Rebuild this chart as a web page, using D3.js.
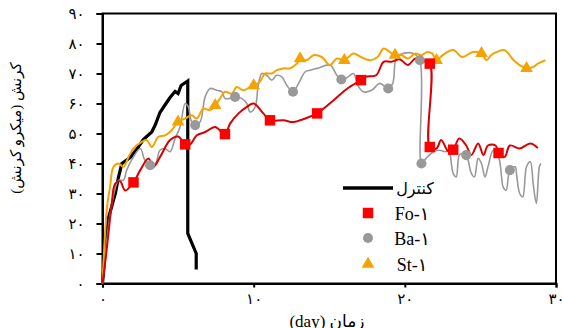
<!DOCTYPE html>
<html>
<head>
<meta charset="utf-8">
<script src="https://cdn.jsdelivr.net/npm/d3@7"></script>
<style>
  body { margin: 0; background: #fff; }
  text { font-family: "Liberation Serif", "DejaVu Sans", serif; }
</style>
</head>
<body>
<div id="chart"></div>
<script>
// values: [day, micro-strain]
const control = [[0,0],[0.2,12],[0.4,22],[0.6,25.5],[0.85,30],[1.06,35.5],[1.28,40],[1.83,42],[2.3,45],[2.7,48],[3.26,50.5],[3.5,53],[3.8,57],[4.2,60],[4.47,62],[4.8,64],[5.0,63.3],[5.2,66],[5.64,67.5],[5.64,16.7],[6.2,10],[6.2,4.7]];

const fo1 = [[0,0],[0.2,8],[0.4,17],[0.6,26],[0.84,33.3],[1.17,34],[1.5,31],[2.05,33.7],[2.5,37.8],[3.04,41.7],[3.37,38.9],[3.81,42.2],[4.47,47.8],[5.0,49],[5.47,46.4],[5.8,46.4],[6.24,49.4],[6.8,50.5],[7.45,52.2],[8.1,49.8],[8.44,53.3],[9.0,56.7],[9.55,58.9],[10.0,60],[10.64,56.7],[11.08,54.4],[11.96,54.4],[12.6,53.8],[13.07,54.4],[13.7,55.6],[14.2,56.7],[15.27,61],[16.2,65],[17.1,67.8],[17.4,68.9],[18.1,69.4],[18.6,73.9],[19.1,73.9],[19.68,74.7],[20.2,72.8],[20.7,75],[21.1,74.2],[21.65,73.3],[21.65,45.5],[22.1,45],[22.4,47.8],[22.9,43.9],[23.2,44.6],[23.6,48.3],[24.06,46],[24.4,42.8],[24.85,46.7],[25.2,42.8],[25.5,46],[26.0,46],[26.2,43.5],[26.6,42.2],[26.95,46],[27.6,45],[28.3,46.7],[28.8,45.2]];

const ba1 = [[0,0],[0.3,15],[0.6,26],[1.06,34.4],[1.39,34.4],[1.6,37.8],[2.05,42.2],[2.5,45],[2.8,41.1],[3.15,39.4],[3.5,40],[3.8,44.4],[4.14,45],[4.47,43.9],[4.8,48.3],[5.13,52.2],[5.47,60],[5.68,58.9],[5.86,54.4],[6.13,52.8],[6.46,53.9],[6.79,62.2],[7.12,65],[7.56,64.4],[7.9,63.9],[8.1,61.7],[8.44,61.7],[8.77,62.2],[9.2,61.7],[9.55,60],[9.76,57.2],[10.1,58.9],[10.3,66],[10.54,70],[10.87,69.4],[11.2,67.8],[11.53,69.4],[11.86,68.9],[12.2,66],[12.6,63.9],[13.0,67],[13.4,70.5],[13.73,71.1],[14.2,71.7],[15.05,72.8],[15.5,69.4],[15.8,68],[16.2,68.7],[16.6,70],[16.9,66],[17.25,63.9],[17.8,64.4],[18.35,66.7],[18.9,65],[19.2,66.7],[19.45,75.5],[19.9,76.7],[20.55,76.7],[20.99,74.4],[21.1,40],[21.4,41.7],[21.9,43.9],[22.3,44.4],[22.7,43.9],[22.9,44.4],[23.2,36.7],[23.4,35.5],[23.6,42.8],[23.8,43.3],[24.06,42.8],[24.4,36.7],[24.6,35.5],[24.85,41.7],[25.07,40],[25.3,35.5],[25.5,38.9],[25.85,44.4],[26.2,42.2],[26.4,35.5],[26.5,32.2],[26.7,31.1],[26.95,37.8],[27.3,38.9],[27.4,36],[27.6,30],[27.8,28.9],[28.05,38.9],[28.3,40.6],[28.5,32.8],[28.7,26.7],[28.9,38.9],[29.0,40]];

const st1 = [[0,0],[0.15,15],[0.3,25.5],[0.5,32.2],[0.73,38.9],[1.06,40],[1.39,38.9],[1.72,42.2],[2.05,45],[2.6,47.2],[2.93,47.8],[3.26,45.5],[3.7,48.9],[4.14,49.4],[4.58,51.1],[5.0,53.9],[5.47,55],[5.9,56.1],[6.24,55],[6.67,58.3],[7.1,57.8],[7.45,59.4],[7.78,61.7],[8.1,63.9],[8.55,63.3],[8.88,65.5],[9.3,64.4],[9.76,65.5],[10.0,66],[10.4,67.2],[10.75,70],[11.2,70],[11.53,71.1],[11.96,71.7],[12.4,71.7],[12.85,73.3],[13.07,75],[13.5,74.4],[13.95,76.1],[14.5,75.5],[15.05,72.8],[15.5,75],[16.0,74.4],[16.6,76.7],[17.1,75.5],[17.7,74.4],[18.2,75.5],[18.6,78.3],[19.0,77.2],[19.35,76.1],[19.8,76.1],[20.2,75],[20.7,76.7],[21.1,76.1],[21.5,77.2],[21.8,76.7],[22.1,74.4],[22.5,76.1],[23.2,77.8],[23.8,75.5],[24.5,77.2],[25.07,76.7],[25.4,74.4],[25.7,76.1],[26.1,77.2],[26.6,77.8],[27.2,74.4],[27.6,72.8],[28.05,71.7],[28.5,72.2],[28.8,73.3],[29.3,74.4]];

const foMarks = [[2.05,33.7],[5.47,46.4],[8.1,49.8],[11.08,54.4],[14.2,56.7],[17.1,67.8],[21.65,73.3],[21.65,45.5],[23.2,44.6],[26.2,43.5]];
const baMarks = [[3.15,39.4],[6.13,52.8],[8.77,62.2],[12.6,63.9],[15.8,68],[18.9,65],[21.0,74.4],[21.1,40],[24.06,42.8],[26.95,37.8]];
const stMarks = [[5.0,53.9],[7.45,59.4],[10.0,66],[13.07,75],[16.0,74.4],[19.35,76.1],[22.1,74.4],[25.07,76.7],[28.05,71.7]];

const xTicks = [0, 10, 20, 30];
const yTicks = [0, 10, 20, 30, 40, 50, 60, 70, 80, 90];
const legendNames = ["کنترل", "Fo-۱", "Ba-۱", "St-۱"];

const W = 562, H = 328;
const fa = v => String(v).replace(/\d/g, c => "۰۱۲۳۴۵۶۷۸۹"[c]);

const svg = d3.select("#chart").append("svg")
  .attr("width", W).attr("height", H);

const x = d3.scaleLinear().domain([0, 30]).range([102.5, 556]);
const y = d3.scaleLinear().domain([0, 90]).range([283.5, 13.5]);

// frame
svg.append("rect")
  .attr("x", x(0)).attr("y", y(90))
  .attr("width", x(30) - x(0)).attr("height", y(0) - y(90))
  .attr("fill", "none").attr("stroke", "#000").attr("stroke-width", 2);

const yAxis = svg.append("g")
  .attr("transform", `translate(${x(0)},0)`)
  .call(d3.axisLeft(y).tickValues(yTicks).tickSize(6).tickPadding(12).tickFormat(fa));
const xAxis = svg.append("g")
  .attr("transform", `translate(0,${y(0)})`)
  .call(d3.axisBottom(x).tickValues(xTicks).tickSize(4).tickPadding(6).tickFormat(fa));

[yAxis, xAxis].forEach(a => {
  a.select(".domain").attr("stroke-width", 2);
  a.selectAll(".tick line").attr("stroke-width", 2);
  a.selectAll("text").attr("font-size", 15).attr("font-family", "DejaVu Sans");
});

const line = d3.line().x(d => x(d[0])).y(d => y(d[1]));
const smooth = d3.line().x(d => x(d[0])).y(d => y(d[1])).curve(d3.curveCatmullRom.alpha(0.5));

svg.append("path").datum(control).attr("d", line)
  .attr("fill", "none").attr("stroke", "#000").attr("stroke-width", 3.2);
svg.append("path").datum(ba1).attr("d", smooth)
  .attr("fill", "none").attr("stroke", "#999").attr("stroke-width", 1.6);
svg.append("path").datum(st1).attr("d", smooth)
  .attr("fill", "none").attr("stroke", "#f5a300").attr("stroke-width", 2);
svg.append("path").datum(fo1).attr("d", smooth)
  .attr("fill", "none").attr("stroke", "#d80000").attr("stroke-width", 2);

const sq = d3.symbol().type(d3.symbolSquare).size(110);
const ci = d3.symbol().type(d3.symbolCircle).size(80);
const tr = d3.symbol().type(d3.symbolTriangle).size(70);

svg.selectAll(".ba").data(baMarks).join("path").attr("class", "ba")
  .attr("d", ci).attr("fill", "#999")
  .attr("transform", d => `translate(${x(d[0])},${y(d[1])})`);
svg.selectAll(".st").data(stMarks).join("path").attr("class", "st")
  .attr("d", tr).attr("fill", "#f5a300")
  .attr("transform", d => `translate(${x(d[0])},${y(d[1])})`);
svg.selectAll(".fo").data(foMarks).join("path").attr("class", "fo")
  .attr("d", sq).attr("fill", "#ff0000")
  .attr("transform", d => `translate(${x(d[0])},${y(d[1])})`);

// legend
const lg = svg.append("g");
lg.append("line").attr("x1", 343).attr("x2", 393).attr("y1", 188).attr("y2", 188)
  .attr("stroke", "#000").attr("stroke-width", 3.5);
lg.append("path").attr("d", sq).attr("fill", "#ff0000").attr("transform", "translate(368,213)");
lg.append("path").attr("d", ci).attr("fill", "#999").attr("transform", "translate(368,238)");
lg.append("path").attr("d", tr).attr("fill", "#f5a300").attr("transform", "translate(368,264)");
lg.selectAll("text").data(legendNames).join("text")
  .attr("x", (d, i) => i === 0 ? 415 : 412)
  .attr("y", (d, i) => 194 + i * 25.5)
  .attr("text-anchor", "middle")
  .attr("font-size", (d, i) => i === 0 ? 16 : 18)
  .attr("font-family", (d, i) => i === 0 ? "DejaVu Sans" : "Liberation Serif, DejaVu Sans")
  .text(d => d);

// axis titles
svg.append("text")
  .attr("x", 327).attr("y", 327)
  .attr("text-anchor", "middle").attr("direction", "rtl")
  .attr("font-size", 17)
  .text("زمان (day)");
svg.append("text")
  .attr("transform", "translate(21,128) rotate(-90)")
  .attr("text-anchor", "middle").attr("direction", "rtl")
  .attr("font-size", 15).attr("font-family", "DejaVu Sans")
  .text("کرنش (میکرو کرنش)");
</script>
</body>
</html>
